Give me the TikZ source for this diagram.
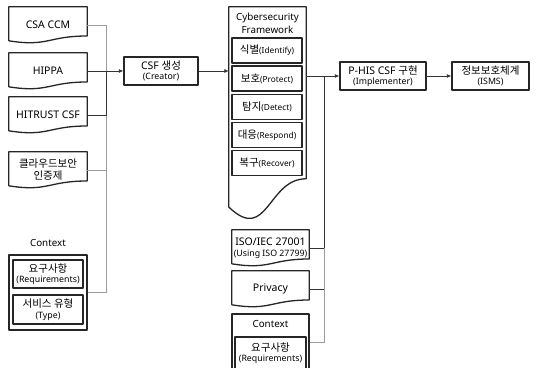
\documentclass[tikz,border=0pt]{standalone}
\usepackage{fontspec}
\setmainfont{Noto Sans}
\newfontfamily\kr{Noto Sans CJK KR}
\usetikzlibrary{arrows.meta,calc}
\definecolor{dk}{HTML}{262626}
\definecolor{ln}{HTML}{333333}
\definecolor{gr}{HTML}{9C9C9C}
\newcommand\mainsz{\fontsize{10.5}{13}\selectfont}
\newcommand\smsz{\fontsize{8.8}{10}\selectfont}
\newcommand\tinysz{\fontsize{8.3}{10}\selectfont}
\newcommand\docpath[1]{\draw[shapeline] (#1.north west) -- (#1.north east) -- ($(#1.north east)!0.802!(#1.south east)$) .. controls ($(#1.north)!0.802!(#1.south)$) and ($(#1.north)!1.107!(#1.south)$) .. ($(#1.north west)!0.934!(#1.south west)$) -- cycle;}
\begin{document}
\begin{tikzpicture}[x=1pt,y=-1pt,
  shapeline/.style={draw=dk,line width=1.3pt,line join=round},
  box/.style={shapeline, rectangle, inner sep=0pt, align=center, font=\mainsz},
  doc/.style={rectangle, draw=none, inner sep=0pt, align=center, font=\mainsz},
  dkline/.style={draw=ln, line width=0.8pt},
  grline/.style={draw=gr, line width=1pt},
  arr/.style={dkline, -{Latex[length=4.5pt,width=4pt]}},
  lbl/.style={inner sep=0pt, align=center, font=\fontsize{9.8}{13}\selectfont}]
\useasboundingbox (0,0) rectangle (540,367);
\clip (0,0) rectangle (540,367);
\fill[white] (0,0) rectangle (540,367);

% left documents
\node[doc, minimum width=78pt, minimum height=36pt] (csa) at (48,25) {CSA CCM};
\node[doc, minimum width=78pt, minimum height=36pt] (hippa) at (48,71) {HIPPA};
\node[doc, minimum width=78pt, minimum height=36pt] (hitrust) at (48,115) {HITRUST CSF};
\node[doc, minimum width=78pt, minimum height=36pt] (cloud) at (48,170) {{\kr 클라우드보안}\\[-1pt]{\kr 인증제}};
\docpath{csa}
\docpath{hippa}
\docpath{hitrust}
\docpath{cloud}

% left context
\node[lbl] (ctx1label) at (48,243) {Context};
\node[box, minimum width=78pt, minimum height=75pt] (ctx1) at (48,292.5) {};
\node[box, minimum width=70pt, minimum height=28pt] (req1) at (48,274) {{\kr 요구사항}\\[-2.5pt]{\smsz (Requirements)}};
\node[box, minimum width=70pt, minimum height=29pt] (type1) at (48,309.5) {{\kr 서비스 유형}\\[-2.5pt]{\smsz (Type)}};

% creator
\node[box, minimum width=74pt, minimum height=28pt] (csf) at (161,71) {CSF {\kr 생성}\\[-2.5pt]{\smsz (Creator)}};

% cybersecurity framework
\node[doc, minimum width=77pt, minimum height=214pt] (cf) at (267.5,114) {};
\docpath{cf}
\node[lbl] (cftitle) at (267.5,23.5) {Cybersecurity\\Framework};
\node[box, minimum width=70pt, minimum height=25pt] (ident) at (267,50.5) {{\kr 식별}{\tinysz(Identify)}};
\node[box, minimum width=70pt, minimum height=25pt] (prot) at (267,78.6) {{\kr 보호}{\tinysz(Protect)}};
\node[box, minimum width=70pt, minimum height=25pt] (detc) at (267,106.7) {{\kr 탐지}{\tinysz(Detect)}};
\node[box, minimum width=70pt, minimum height=25pt] (resp) at (267,134.8) {{\kr 대응}{\tinysz(Respond)}};
\node[box, minimum width=70pt, minimum height=25pt] (reco) at (267,162.9) {{\kr 복구}{\tinysz(Recover)}};

% right column
\node[doc, minimum width=77pt, minimum height=36pt] (iso) at (270.5,248) {ISO/IEC 27001\\[-2.5pt]{\smsz (Using ISO 27799)}};
\node[doc, minimum width=77pt, minimum height=36pt] (priv) at (270.5,289) {Privacy};
\docpath{iso}
\docpath{priv}
\node[box, minimum width=77pt, minimum height=56pt] (ctx2) at (270.5,342) {};
\node[lbl] (ctx2label) at (270.5,324) {Context};
\node[box, minimum width=71pt, minimum height=32pt] (req2) at (270.5,353) {{\kr 요구사항}\\[-2.5pt]{\smsz (Requirements)}};

% implementer and isms
\node[box, minimum width=86pt, minimum height=28pt] (phis) at (383,76) {P-HIS CSF {\kr 구현}\\[-2.5pt]{\smsz (Implementer)}};
\node[box, minimum width=77pt, minimum height=28pt] (isms) at (490.5,76) {{\kr 정보보호체계}\\[-2.5pt]{\smsz (ISMS)}};

% left bus
\coordinate (lbus) at (106,0);
\draw[grline] (csa.east) -- (csa.east -| lbus) -- (ctx1.east -| lbus) -- (ctx1.east);
\draw[grline] (cloud.east) -- (cloud.east -| lbus);
\draw[dkline] (hippa.east -| lbus) -- (hitrust.east -| lbus) -- (hitrust.east);
\draw[arr] (hippa.east) -- (csf.west);
\draw[arr] (csf.east) -- (csf.east -| cf.west);

% right bus
\coordinate (rbus) at (324,0);
\draw[arr] (phis.west -| cf.east) -- (phis.west);
\draw[dkline] (phis.west -| rbus) -- (iso.east -| rbus) -- (iso.east);
\draw[dkline] (priv.east) -- (priv.east -| rbus);
\draw[grline] (iso.east -| rbus) -- (ctx2.east -| rbus) -- (ctx2.east);
\draw[arr] (phis.east) -- (isms.west);
\end{tikzpicture}
\end{document}
